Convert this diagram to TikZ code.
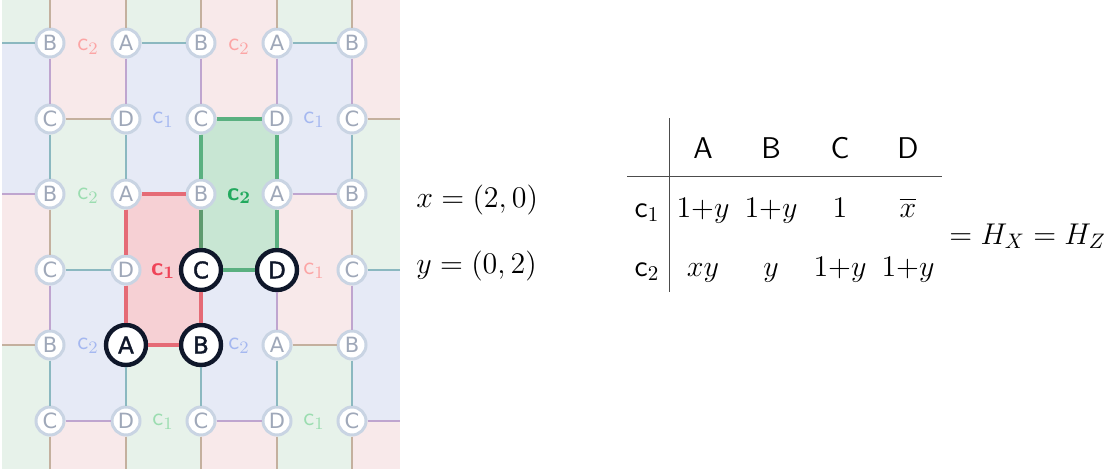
\documentclass[tikz,border=0pt]{standalone}
\usepackage{fix-cm}
\usepackage{amsmath,amssymb}
\usepackage{fontspec}
\usepackage{tikz}
\newfontfamily\gridfont{DejaVu Sans}
\newfontfamily\gridfontmid[FakeBold=1.6]{DejaVu Sans}

\definecolor{cellred}{HTML}{F8E9EA}
\definecolor{cellblue}{HTML}{E6EAF6}
\definecolor{cellgreen}{HTML}{E7F2EA}
\definecolor{cellredhi}{HTML}{F6D0D4}
\definecolor{cellgreenhi}{HTML}{C8E6D3}
\definecolor{linetan}{HTML}{C4B09E}
\definecolor{lineteal}{HTML}{8BB8C0}
\definecolor{linepurple}{HTML}{BFA5CF}
\definecolor{linered}{HTML}{E56B76}
\definecolor{linegreen}{HTML}{5AB080}
\definecolor{linemix}{HTML}{5F9A6F}
\definecolor{ringgray}{HTML}{C9D4E3}
\definecolor{textgray}{HTML}{9FA8B9}
\definecolor{inkdark}{HTML}{0F172A}
\definecolor{labred}{HTML}{FCA5A5}
\definecolor{labblue}{HTML}{A5B8F0}
\definecolor{labgreen}{HTML}{9BDDB0}
\definecolor{labredhi}{HTML}{EF4458}
\definecolor{labgreenhi}{HTML}{22A95E}

\tikzset{
  qubit/.style={circle,draw=ringgray,fill=white,line width=1.5pt,minimum size=14pt,
    inner sep=0pt,text=textgray,font=\gridfont\fontsize{10.5}{11}\selectfont},
  qubithi/.style={circle,draw=inkdark,fill=white,line width=2.2pt,minimum size=20pt,
    inner sep=0pt,text=inkdark,font=\gridfontmid\fontsize{11.5}{12}\selectfont},
  lab/.style={inner sep=0pt,font=\sffamily\fontsize{12.5}{13}\selectfont},
  labhi/.style={inner sep=0pt,font=\sffamily\bfseries\boldmath\fontsize{12.5}{13}\selectfont},
  faintR/.style={line width=1.1pt,draw=linetan},
  faintT/.style={line width=1.1pt,draw=lineteal},
  faintP/.style={line width=1.1pt,draw=linepurple},
  heavyR/.style={line width=1.6pt,draw=linered},
  heavyG/.style={line width=1.6pt,draw=linegreen},
  heavyM/.style={line width=1.6pt,draw=linemix},
  tabcell/.style={font=\fontsize{15}{18}\selectfont,inner sep=0pt,anchor=base},
  tabhead/.style={tabcell,font=\fontsize{15}{18}\selectfont\sffamily},
  tabrule/.style={line width=0.5pt,draw=black!70},
  R/.style={fill=cellred},
  B/.style={fill=cellblue},
  G/.style={fill=cellgreen},
  RR/.style={fill=cellredhi},
  GG/.style={fill=cellgreenhi},
}

\begin{document}
\begin{tikzpicture}[x=0.5pt,y=-0.5pt]
  \useasboundingbox (0,0) rectangle (1115,471);

  % cells
  \foreach \ya/\yb/\cols in {0/43/{G,R,G,R,G,R},43/119/{B,R,B,R,B,R},119/194/{B,G,B,GG,B,G},
      194/270/{R,G,RR,GG,R,G},270/345/{R,B,RR,B,R,B},345/421/{G,B,G,B,G,B},421/469/{G,R,G,R,G,R}}{
    \foreach \s [count=\i] in \cols {
      \pgfmathsetmacro\xa{{2,50,126,201,277,352}[\i-1]}
      \pgfmathsetmacro\xb{{50,126,201,277,352,400}[\i-1]}
      \path[\s] (\xa,\ya) rectangle (\xb,\yb);
    }
  }

  % qubits
  \foreach \i/\x/\t/\s in {1/50/B/qubit,2/126/A/qubit,3/201/B/qubit,4/277/A/qubit,5/352/B/qubit}
    \node[\s] (n\i1) at (\x,43) {\t};
  \foreach \i/\x/\t/\s in {1/50/C/qubit,2/126/D/qubit,3/201/C/qubit,4/277/D/qubit,5/352/C/qubit}
    \node[\s] (n\i2) at (\x,119) {\t};
  \foreach \i/\x/\t/\s in {1/50/B/qubit,2/126/A/qubit,3/201/B/qubit,4/277/A/qubit,5/352/B/qubit}
    \node[\s] (n\i3) at (\x,194) {\t};
  \foreach \i/\x/\t/\s in {1/50/C/qubit,2/126/D/qubit,3/201/C/qubithi,4/277/D/qubithi,5/352/C/qubit}
    \node[\s] (n\i4) at (\x,270) {\t};
  \foreach \i/\x/\t/\s in {1/50/B/qubit,2/126/A/qubithi,3/201/B/qubithi,4/277/A/qubit,5/352/B/qubit}
    \node[\s] (n\i5) at (\x,345) {\t};
  \foreach \i/\x/\t/\s in {1/50/C/qubit,2/126/D/qubit,3/201/C/qubit,4/277/D/qubit,5/352/C/qubit}
    \node[\s] (n\i6) at (\x,421) {\t};

  % free ends at the border of the lattice
  \foreach \i/\x in {1/50,2/126,3/201,4/277,5/352} {
    \coordinate (top\i) at (\x,0);
    \coordinate (bot\i) at (\x,469);
  }
  \foreach \j/\y in {1/43,2/119,3/194,4/270,5/345,6/421} {
    \coordinate (lft\j) at (2,\y);
    \coordinate (rgt\j) at (400,\y);
  }

  % horizontal edges
  \foreach \a/\b/\s in {lft1/n11/faintT,n21/n31/faintT,n41/n51/faintT,
      n12/n22/faintR,n32/n42/heavyG,n52/rgt2/faintR,
      lft3/n13/faintP,n23/n33/heavyR,n43/n53/faintP,
      n14/n24/faintT,n34/n44/heavyG,n54/rgt4/faintT,
      lft5/n15/faintR,n25/n35/heavyR,n45/n55/faintR,
      n16/n26/faintP,n36/n46/faintP,n56/rgt6/faintP}
    \draw[\s] (\a) -- (\b);

  % vertical edges
  \foreach \i in {1,...,5} {
    \draw[faintR] (top\i) -- (n\i1);
    \draw[faintP] (n\i1) -- (n\i2);
    \draw[faintT] (n\i5) -- (n\i6);
    \draw[faintR] (n\i6) -- (bot\i);
  }
  \foreach \a/\b/\s in {n12/n13/faintT,n22/n23/faintT,n32/n33/heavyG,n42/n43/heavyG,n52/n53/faintT,
      n13/n14/faintR,n23/n24/heavyR,n33/n34/heavyM,n43/n44/heavyG,n53/n54/faintR,
      n14/n15/faintP,n24/n25/heavyR,n34/n35/heavyR,n44/n45/faintP,n54/n55/faintP}
    \draw[\s] (\a) -- (\b);

  % checks
  \foreach \n/\x/\y/\k/\st/\col in {l1/88/47/2/lab/labred,l2/239/47/2/lab/labred,l3/163/120/1/lab/labblue,
      l4/314/120/1/lab/labblue,l5/88/196/2/lab/labgreen,l6/239/196/2/labhi/labgreenhi,
      l7/163/271/1/labhi/labredhi,l8/314/271/1/lab/labred,l9/88/346/2/lab/labblue,
      l10/239/346/2/lab/labblue,l11/163/422/1/lab/labgreen,l12/314/422/1/lab/labgreen}
    \node[\st,text=\col] (\n) at (\x,\y) {c$_{\k}$};

  % translations
  \node[tabcell,anchor=base west] (vecx) at (416,207) {$x=(2,0)$};
  \node[tabcell,anchor=base west] (vecy) at (416,273) {$y=(0,2)$};

  % table
  \coordinate (vtop) at (669,118);
  \coordinate (vbot) at (669,292);
  \coordinate (hlft) at (627,176);
  \coordinate (hrgt) at (942,176);
  \draw[tabrule] (vtop) -- (vbot);
  \draw[tabrule] (hlft) -- (hrgt);
  \foreach \t/\x in {A/703,B/771,C/840,D/908}
    \node[tabhead] (head\t) at (\x,158) {\t};
  \node[tabhead] (rowa) at (647,217) {c$_1$};
  \node[tabhead] (rowb) at (647,276) {c$_2$};
  \node[tabcell] (ca) at (703,217) {$1{+}y$};
  \node[tabcell] (cb) at (771,217) {$1{+}y$};
  \node[tabcell] (cc) at (840,217) {$1$};
  \node[tabcell] (cd) at (908,217) {$\overline{x}$};
  \node[tabcell] (da) at (703,276) {$xy$};
  \node[tabcell] (db) at (771,276) {$y$};
  \node[tabcell] (dc) at (840,276) {$1{+}y$};
  \node[tabcell] (dd) at (908,276) {$1{+}y$};
  \node[tabcell,anchor=base west] (eqn) at (949,244) {$=H_X=H_Z$};
\end{tikzpicture}
\end{document}
